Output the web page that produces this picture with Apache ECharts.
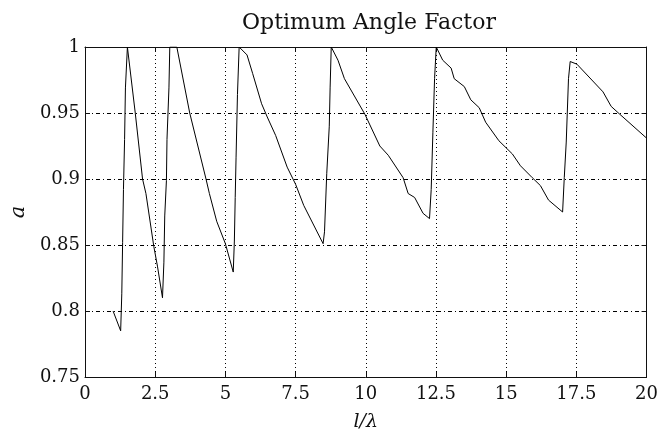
<!DOCTYPE html>
<html>
<head>
<meta charset="utf-8">
<script src="https://cdn.jsdelivr.net/npm/echarts@6/dist/echarts.min.js"></script>
<style>html,body{margin:0;padding:0;background:#fff;}#c{width:661px;height:437px;}</style>
</head>
<body>
<div id="c"></div>
<script>
const titleText = 'Optimum Angle Factor';
const xName = 'l/λ';
const yName = 'a';
const xTicks = [0, 2.5, 5, 7.5, 10, 12.5, 15, 17.5, 20];
const yTicks = [0.75, 0.8, 0.85, 0.9, 0.95, 1];
const xValues = [
  1.0, 1.27, 1.31, 1.34, 1.37, 1.41, 1.44, 1.51,
  1.79, 2.05, 2.17, 2.45, 2.58, 2.76,
  2.81, 2.84, 2.90, 2.92, 2.99, 3.02, 3.27,
  3.73, 4.02, 4.31, 4.43, 4.69, 5.0, 5.28,
  5.32, 5.35, 5.38, 5.43, 5.49, 5.53,
  5.77, 5.97, 6.29, 6.49, 6.79, 7.20, 7.50, 7.79, 8.48,
  8.53, 8.61, 8.70, 8.73, 8.77, 8.79,
  9.01, 9.24, 9.97, 10.50, 10.80, 11.33, 11.51, 11.74, 12.04, 12.27,
  12.33, 12.39, 12.45, 12.51, 12.54,
  12.74, 13.04, 13.15, 13.51, 13.74, 14.04, 14.27, 14.74, 15.22, 15.51, 15.93, 16.22, 16.51, 17.01,
  17.07, 17.14, 17.22, 17.28,
  17.52, 18.45, 18.74, 19.05, 20.0
];
const yValues = [
  0.800, 0.785, 0.813, 0.852, 0.892, 0.930, 0.969, 1.000,
  0.950, 0.900, 0.889, 0.849, 0.834, 0.810,
  0.837, 0.872, 0.899, 0.930, 0.969, 1.000, 1.000,
  0.950, 0.925, 0.900, 0.889, 0.868, 0.851, 0.8295,
  0.853, 0.886, 0.916, 0.964, 1.000, 1.000,
  0.994, 0.980, 0.957, 0.947, 0.933, 0.909, 0.896, 0.880, 0.851,
  0.860, 0.904, 0.940, 0.969, 1.000, 1.000,
  0.990, 0.976, 0.949, 0.925, 0.918, 0.901, 0.889, 0.886, 0.874, 0.870,
  0.892, 0.935, 0.976, 1.000, 0.999,
  0.990, 0.984, 0.976, 0.970, 0.960, 0.954, 0.943, 0.929, 0.919, 0.910, 0.901, 0.895, 0.884, 0.875,
  0.901, 0.928, 0.976, 0.989,
  0.987, 0.966, 0.955, 0.949, 0.931
];

const serif = 'DejaVu Serif';
const data = xValues.map((x, i) => [x, yValues[i]]);
const chart = echarts.init(document.getElementById('c'));
const axisLineStyle = { color: '#111', width: 1 };
const xBase = {
  type: 'value', min: 0, max: 20, interval: 2.5,
  axisLine: { show: true, onZero: false, lineStyle: axisLineStyle },
  axisTick: { show: true, inside: true, length: 5, lineStyle: axisLineStyle },
  splitLine: { show: false }
};
const yBase = {
  type: 'value', min: 0.75, max: 1, interval: 0.05,
  axisLine: { show: true, onZero: false, lineStyle: axisLineStyle },
  axisTick: { show: true, inside: true, length: 5, lineStyle: axisLineStyle },
  splitLine: { show: false }
};
chart.setOption({
  animation: false,
  backgroundColor: '#fff',
  title: {
    text: titleText, left: 364, top: 7, textAlign: 'center',
    textStyle: { fontFamily: serif, fontSize: 22, fontWeight: 'normal', color: '#111' }
  },
  grid: { left: 81, right: 14, top: 47, bottom: 44, containLabel: false },
  xAxis: [
    Object.assign({}, xBase, {
      position: 'bottom',
      name: xName, nameLocation: 'middle', nameGap: 36,
      nameTextStyle: { fontFamily: serif, fontStyle: 'italic', fontSize: 19, color: '#111' },
      axisLabel: {
        show: true, margin: 8, fontFamily: serif, fontSize: 18, color: '#111',
        formatter: v => (xTicks.indexOf(v) >= 0 ? String(v) : '')
      },
      splitLine: { show: true, lineStyle: { color: '#000', width: 1, type: [1, 3] } }
    }),
    Object.assign({}, xBase, { position: 'top', axisLabel: { show: false } })
  ],
  yAxis: [
    Object.assign({}, yBase, {
      position: 'left',
      name: yName, nameLocation: 'middle', nameGap: 56, nameRotate: 90,
      nameTextStyle: { fontFamily: serif, fontStyle: 'italic', fontSize: 21, color: '#111' },
      axisLabel: {
        show: true, margin: 5, fontFamily: serif, fontSize: 18, color: '#111',
        formatter: v => { const t = yTicks.find(k => Math.abs(k - v) < 1e-9); return t === undefined ? '' : String(t); }
      },
      splitLine: { show: true, lineStyle: { color: '#000', width: 1, type: [4, 3, 1, 3] } }
    }),
    Object.assign({}, yBase, { position: 'right', axisLabel: { show: false } })
  ],
  series: [{
    type: 'line', xAxisIndex: 0, yAxisIndex: 0,
    data: data, showSymbol: false, symbol: 'none', smooth: false,
    lineStyle: { color: '#000', width: 1 }, clip: true
  }]
});
</script>
</body>
</html>
